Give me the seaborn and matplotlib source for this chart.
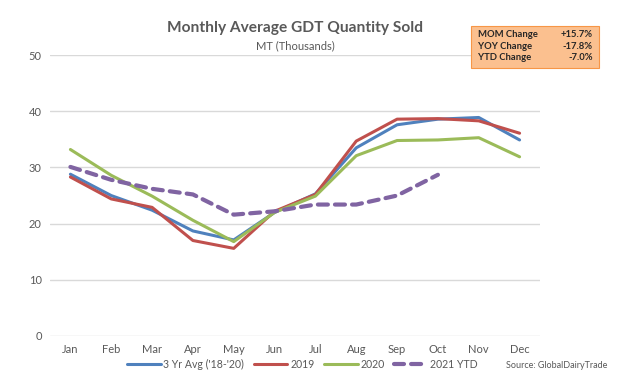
import numpy as np
import pandas as pd
import seaborn as sns
import matplotlib.pyplot as plt
from matplotlib.patches import FancyBboxPatch

# Values (MT, thousands)
months = ["Jan", "Feb", "Mar", "Apr", "May", "Jun", "Jul", "Aug", "Sep", "Oct", "Nov", "Dec"]
avg_18_20 = [28.8, 25.0, 22.4, 18.7, 17.1, 22.0, 25.3, 33.5, 37.6, 38.6, 38.9, 34.9]
y2019 = [28.3, 24.4, 22.9, 17.0, 15.6, 22.2, 25.2, 34.7, 38.6, 38.7, 38.3, 36.1]
y2020 = [33.2, 28.6, 24.9, 20.6, 16.8, 22.0, 24.9, 32.1, 34.8, 34.9, 35.3, 31.9]
ytd2021 = [30.1, 27.8, 26.2, 25.2, 21.6, 22.2, 23.4, 23.4, 25.0, 28.7]

series_names = ["3 Yr Avg ('18-'20)", "2019", "2020", "2021 YTD"]
series_colors = ["#4F81BD", "#C0504D", "#9BBB59", "#8064A2"]

sns.set_theme(style="white")
plt.rcParams['font.family'] = ['Lato', 'DejaVu Sans']

fig = plt.figure(figsize=(6.25, 3.75), dpi=100)
ax = fig.add_axes([0.08, 0.104, 0.784, 0.749])

for name, vals, col in zip(series_names, [avg_18_20, y2019, y2020, ytd2021], series_colors):
    df = pd.DataFrame({"month": np.arange(len(vals)), "value": vals})
    if name == "2021 YTD":
        sns.lineplot(data=df, x="month", y="value", ax=ax, color=col, linewidth=3.0,
                     linestyle=(0, (2.4, 1.7)), dash_capstyle="round", label=name,
                     sort=False, legend=False)
    else:
        sns.lineplot(data=df, x="month", y="value", ax=ax, color=col, linewidth=2.2,
                     label=name, sort=False, legend=False)

ax.set_xlim(-0.5, 11.5)
ax.set_ylim(0, 50)
ax.set_yticks([0, 10, 20, 30, 40, 50])
ax.set_xticks(range(12))
ax.set_xticklabels(months)
ax.set_xlabel("")
ax.set_ylabel("")
ax.tick_params(axis="both", colors="#595959", labelsize=8, length=0, pad=6)
ax.yaxis.grid(True, color="#d9d9d9", linewidth=1)
ax.xaxis.grid(False)
for s in ax.spines.values():
    s.set_visible(False)

fig.text(0.472, 0.925, "Monthly Average GDT Quantity Sold", ha="center", va="center",
         fontsize=11.2, fontweight="bold", color="#595959")
fig.text(0.472, 0.877, "MT (Thousands)", ha="center", va="center", fontsize=8, color="#595959")

handles, labels = ax.get_legend_handles_labels()
fig.legend(handles, labels, loc="center", bbox_to_anchor=(0.484, 0.029), ncol=4, frameon=False,
           fontsize=7.6, handlelength=3.2, columnspacing=0.9, handletextpad=0.25,
           labelcolor="#595959", borderpad=0)

fig.text(0.972, 0.024, "Source: GlobalDairyTrade", ha="right", va="center", fontsize=6.5, color="#595959")

# Change summary box
box = FancyBboxPatch((0.753, 0.82), 0.205, 0.112, boxstyle="square,pad=0",
                     transform=fig.transFigure, facecolor="#FBC08F", edgecolor="#F79646", linewidth=0.8)
fig.patches.append(box)
box_labels = ["MOM Change", "YOY Change", "YTD Change"]
box_values = ["+15.7%", "-17.8%", "-7.0%"]
for i, (lab, val) in enumerate(zip(box_labels, box_values)):
    yy = 0.908 - i * 0.031
    fig.text(0.765, yy, lab, ha="left", va="center", fontsize=6.8, fontweight="bold", color="#262626")
    fig.text(0.948, yy, val, ha="right", va="center", fontsize=6.8, fontweight="bold", color="#262626")

fig.savefig("out.png", dpi=100)
